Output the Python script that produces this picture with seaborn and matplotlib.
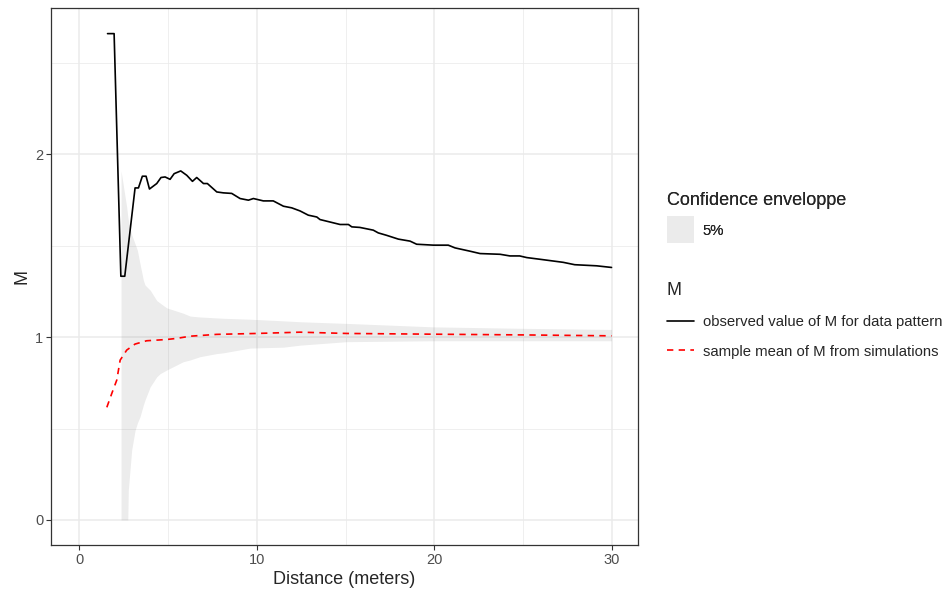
import matplotlib
matplotlib.use("Agg")
import matplotlib.pyplot as plt
from matplotlib.lines import Line2D
from matplotlib.patches import Patch
import numpy as np
import pandas as pd
import seaborn as sns

# observed M function for the data pattern
obs_r = [1.6, 1.97, 2.35, 2.57, 3.15, 3.34, 3.56, 3.77, 3.96, 4.37, 4.61, 4.84,
         5.12, 5.35, 5.72, 6.06, 6.38, 6.62, 7.0, 7.22, 7.75, 8.12, 8.59, 9.06,
         9.53, 9.81, 10.37, 10.93, 11.5, 11.97, 12.44, 12.9, 13.38, 13.56, 14.69,
         15.16, 15.35, 15.8, 16.56, 16.84, 17.3, 17.97, 18.63, 19.0, 19.94, 20.78,
         21.16, 22.0, 22.57, 23.7, 24.25, 24.8, 25.2, 26.0, 27.25, 27.9, 29.13, 29.97]
obs_M = [2.66, 2.66, 1.333, 1.333, 1.816, 1.816, 1.88, 1.88, 1.81, 1.84, 1.873, 1.876,
         1.863, 1.894, 1.909, 1.885, 1.852, 1.873, 1.84, 1.84, 1.794, 1.789, 1.786, 1.758,
         1.749, 1.758, 1.745, 1.745, 1.716, 1.707, 1.69, 1.667, 1.657, 1.643, 1.616,
         1.616, 1.603, 1.60, 1.585, 1.57, 1.557, 1.536, 1.525, 1.508, 1.503, 1.503,
         1.488, 1.47, 1.457, 1.453, 1.444, 1.444, 1.435, 1.425, 1.409, 1.396, 1.39, 1.381]

# sample mean from simulations
sim_r = [1.56, 1.84, 2.12, 2.31, 2.68, 3.15, 3.8, 4.93, 5.5, 6.25, 7.75, 10.0,
         12.44, 15.06, 19.9, 25.0, 29.97]
sim_M = [0.616, 0.692, 0.765, 0.874, 0.929, 0.962, 0.98, 0.987, 0.993, 1.005, 1.015,
         1.02, 1.027, 1.02, 1.016, 1.012, 1.007]

# 5% confidence envelope
env_r = [2.36, 2.68, 2.74, 2.77, 2.96, 3.15, 3.28, 3.43, 3.62, 3.71, 4.0, 4.37,
         4.56, 4.93, 5.85, 6.25, 6.81, 7.75, 8.12, 9.62, 11.5, 12.44, 15.06,
         19.94, 25.0, 29.97]
env_lo = [0.0, 0.0, 0.0, 0.164, 0.383, 0.49, 0.53, 0.565, 0.63, 0.656, 0.728, 0.783,
          0.80, 0.82, 0.865, 0.875, 0.893, 0.91, 0.914, 0.94, 0.945, 0.956, 0.975,
          0.98, 0.98, 0.98]
env_hi = [1.91, 1.71, 1.66, 1.64, 1.56, 1.51, 1.475, 1.40, 1.31, 1.285, 1.257, 1.20,
          1.186, 1.16, 1.131, 1.115, 1.11, 1.105, 1.103, 1.098, 1.089, 1.084, 1.075,
          1.056, 1.048, 1.042]

df_obs = pd.DataFrame({"r": obs_r, "M": obs_M})
df_sim = pd.DataFrame({"r": sim_r, "M": sim_M})

sns.set_style("white")
plt.rcParams["font.family"] = ["Liberation Sans", "DejaVu Sans"]

fig = plt.figure(figsize=(9.47, 5.9), dpi=100)
ax = fig.add_axes([0.0539, 0.0763, 0.6198, 0.9101])

# grid like theme_bw
for v in [5, 15, 25]:
    ax.axvline(v, color="#EBEBEB", lw=0.55, zorder=0)
for v in [0.5, 1.5, 2.5]:
    ax.axhline(v, color="#EBEBEB", lw=0.55, zorder=0)
for v in [0, 10, 20, 30]:
    ax.axvline(v, color="#EBEBEB", lw=1.1, zorder=0)
for v in [0, 1, 2]:
    ax.axhline(v, color="#EBEBEB", lw=1.1, zorder=0)

ax.fill_between(env_r, env_lo, env_hi, color="grey", alpha=0.15, lw=0, zorder=1)
sns.lineplot(data=df_obs, x="r", y="M", ax=ax, color="black", lw=1.2, zorder=3)
sns.lineplot(data=df_sim, x="r", y="M", ax=ax, color="red", lw=1.2,
             zorder=3).lines[-1].set_dashes((3.8, 3.2))

ax.set_xlim(-1.58, 31.46)
ax.set_ylim(-0.137, 2.80)
ax.set_xticks([0, 10, 20, 30])
ax.set_yticks([0, 1, 2])
ax.tick_params(axis="both", length=3.5, width=0.8, color="#333333",
               labelcolor="#4D4D4D", labelsize=10.5, pad=2, direction="out")
ax.tick_params(axis="x", bottom=True)
ax.tick_params(axis="y", left=True)
for s in ax.spines.values():
    s.set_color("#333333")
    s.set_linewidth(0.9)
ax.set_xlabel("Distance (meters)", fontsize=13, labelpad=3)
ax.set_ylabel("M", fontsize=13, labelpad=3)

# legends
h_env = [Patch(facecolor="#EBEBEB", edgecolor="none")]
leg1 = fig.legend(h_env, ["5%"], title="Confidence enveloppe", loc="upper left",
                  bbox_to_anchor=(0.7026, 0.677), frameon=False, fontsize=10.7,
                  title_fontsize=13, handlelength=1.8, handleheight=2.41,
                  handletextpad=0.6, alignment="left", borderaxespad=0,
                  borderpad=0.1)
h_lines = [Line2D([], [], color="black", lw=1.2),
           Line2D([], [], color="red", lw=1.2, dashes=(3.8, 3.2))]
leg2 = fig.legend(h_lines, ["observed value of M for data pattern",
                            "sample mean of M from simulations"],
                  title="M", loc="upper left", bbox_to_anchor=(0.700, 0.528),
                  frameon=False, fontsize=10.7, title_fontsize=13,
                  handlelength=1.8, handletextpad=0.6, labelspacing=1.05,
                  alignment="left", borderaxespad=0, borderpad=0.27)
fig.add_artist(leg1)

fig.savefig("out.png", dpi=100)
